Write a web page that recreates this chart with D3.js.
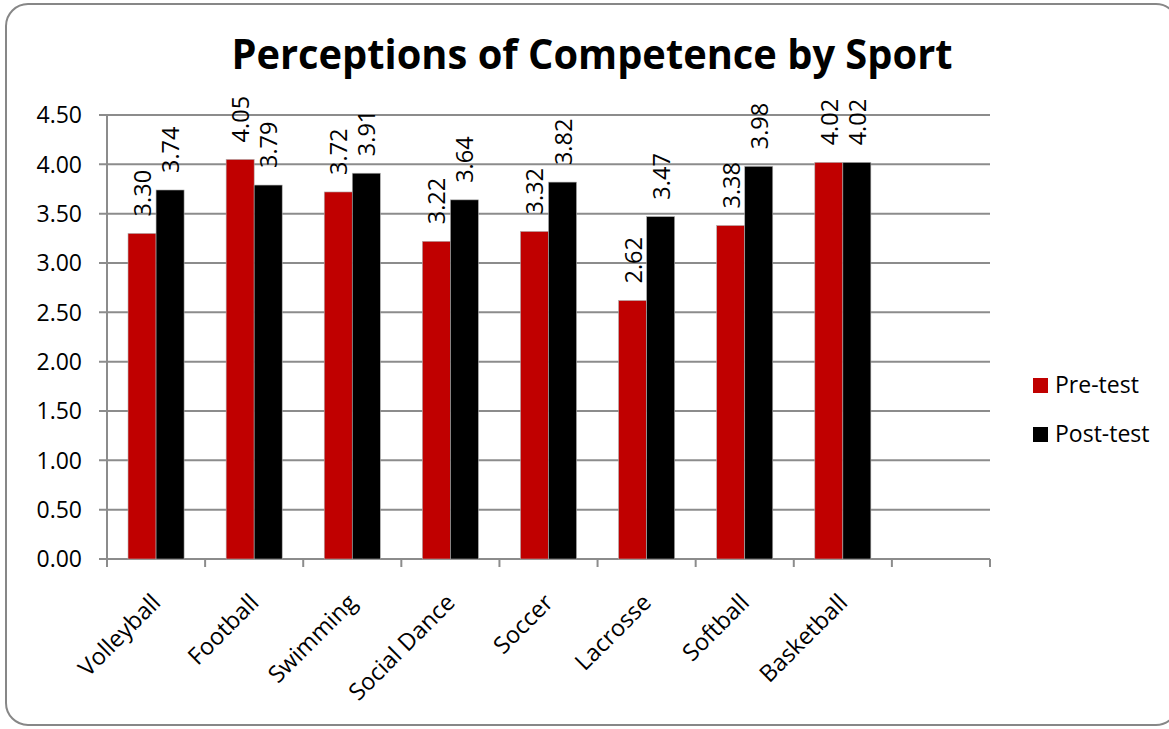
<!DOCTYPE html>
<html>
<head>
<meta charset="utf-8">
<script src="https://cdn.jsdelivr.net/npm/d3@7"></script>
<style>
  body { margin: 0; background: #fff; }
  svg { display: block; font-family: "Open Sans", sans-serif; }
</style>
</head>
<body>
<svg id="chart" width="1169" height="729"></svg>
<script>
// chart data
const categories = ["Volleyball", "Football", "Swimming", "Social Dance", "Soccer", "Lacrosse", "Softball", "Basketball"];
const seriesNames = ["Pre-test", "Post-test"];
const preTest = [3.30, 4.05, 3.72, 3.22, 3.32, 2.62, 3.38, 4.02];
const postTest = [3.74, 3.79, 3.91, 3.64, 3.82, 3.47, 3.98, 4.02];
const yTicks = [0, 0.5, 1, 1.5, 2, 2.5, 3, 3.5, 4, 4.5];
const slotCount = 9; // excel left one empty slot at the end

const colors = { "Pre-test": "#c00000", "Post-test": "#000000" };
const gridColor = "#8c8c8c";

const svg = d3.select("#chart");

// outer frame (right side runs off the picture)
svg.append("rect")
  .attr("x", 6).attr("y", 4)
  .attr("width", 1172).attr("height", 721)
  .attr("rx", 22).attr("ry", 22)
  .attr("fill", "#fff")
  .attr("stroke", "#878787")
  .attr("stroke-width", 2);

svg.append("text")
  .attr("x", 592).attr("y", 69)
  .attr("text-anchor", "middle")
  .attr("font-size", 41)
  .attr("font-weight", "bold")
  .attr("textLength", 721)
  .attr("lengthAdjust", "spacingAndGlyphs")
  .text("Perceptions of Competence by Sport");

const plot = { left: 107, right: 990, top: 115, bottom: 559 };

const y = d3.scaleLinear().domain([0, 4.5]).range([plot.bottom, plot.top]);
const x = d3.scaleBand().domain(d3.range(slotCount)).range([plot.left, plot.right]);
const xs = d3.scaleBand().domain(seriesNames).range([0, x.bandwidth()]).paddingOuter(0.75);

// gridlines + y labels
svg.append("g").selectAll("line")
  .data(yTicks)
  .join("line")
  .attr("x1", plot.left - 8).attr("x2", plot.right)
  .attr("y1", d => y(d)).attr("y2", d => y(d))
  .attr("stroke", gridColor).attr("stroke-width", 2);

svg.append("g").selectAll("text")
  .data(yTicks)
  .join("text")
  .attr("x", 82).attr("y", d => y(d))
  .attr("dy", "0.36em")
  .attr("text-anchor", "end")
  .attr("font-size", 23)
  .text(d => d3.format(".2f")(d));

// axes
svg.append("line")
  .attr("x1", plot.left).attr("x2", plot.left)
  .attr("y1", plot.top).attr("y2", plot.bottom)
  .attr("stroke", gridColor).attr("stroke-width", 2);

svg.append("g").selectAll("line")
  .data(d3.range(slotCount + 1))
  .join("line")
  .attr("x1", d => plot.left + d * x.step()).attr("x2", d => plot.left + d * x.step())
  .attr("y1", plot.bottom).attr("y2", plot.bottom + 8)
  .attr("stroke", gridColor).attr("stroke-width", 2);

// bars
const rows = categories.map((c, i) => ({ i, values: [
  { name: "Pre-test", v: preTest[i] },
  { name: "Post-test", v: postTest[i] }
] }));

const groups = svg.append("g").selectAll("g")
  .data(rows)
  .join("g")
  .attr("transform", d => `translate(${x(d.i)},0)`);

groups.selectAll("rect")
  .data(d => d.values)
  .join("rect")
  .attr("x", d => xs(d.name))
  .attr("y", d => y(d.v))
  .attr("width", xs.bandwidth())
  .attr("height", d => y(0) - y(d.v))
  .attr("fill", d => colors[d.name])
  .attr("stroke", "#b0b0b0")
  .attr("stroke-width", 0.6);

// value labels, rotated
groups.selectAll("text")
  .data(d => d.values)
  .join("text")
  .attr("transform", d => `translate(${xs(d.name) + xs.bandwidth() / 2 + 9},${y(d.v) - 17}) rotate(-90)`)
  .attr("font-size", 23.5)
  .text(d => d3.format(".2f")(d.v));

// category labels
svg.append("g").selectAll("text")
  .data(categories)
  .join("text")
  .attr("transform", (d, i) => `translate(${x(i) + x.bandwidth() / 2 + 6},${plot.bottom + 45}) rotate(-45)`)
  .attr("text-anchor", "end")
  .attr("font-size", 23.5)
  .text(d => d);

// legend
const legend = svg.append("g").selectAll("g")
  .data(seriesNames)
  .join("g")
  .attr("transform", (d, i) => `translate(1033,${378 + i * 49})`);

legend.append("rect")
  .attr("width", 15).attr("height", 15)
  .attr("fill", d => colors[d]);

legend.append("text")
  .attr("x", 22).attr("y", 15)
  .attr("font-size", 23)
  .text(d => d);
</script>
</body>
</html>
